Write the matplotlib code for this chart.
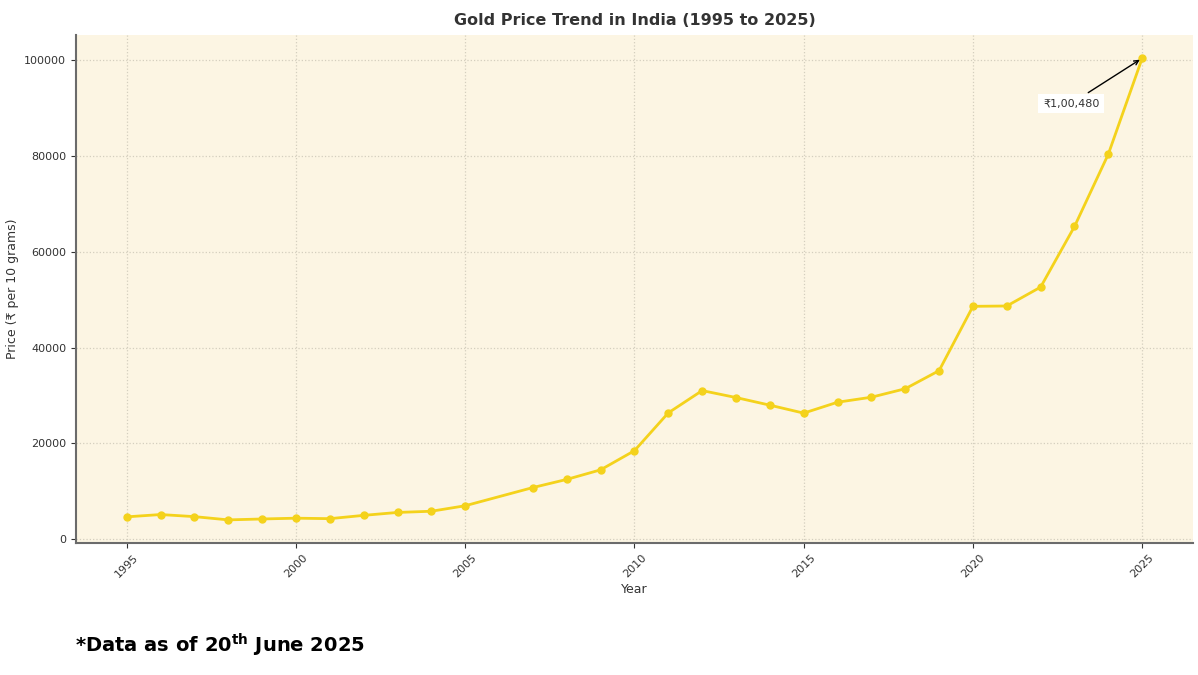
import matplotlib.pyplot as plt

years = [1995, 1996, 1997, 1998, 1999, 2000, 2001, 2002, 2003, 2004, 2005,
         2007, 2008, 2009, 2010, 2011, 2012, 2013, 2014, 2015, 2016, 2017,
         2018, 2019, 2020, 2021, 2022, 2023, 2024, 2025]
prices = [4680, 5160, 4725, 4045, 4234, 4400, 4300, 4990, 5600, 5850, 7000,
          10800, 12500, 14500, 18500, 26400, 31050, 29600, 28006, 26343, 28623, 29667,
          31438, 35220, 48651, 48720, 52670, 65330, 80450, 100480]
x_ticks = [1995, 2000, 2005, 2010, 2015, 2020, 2025]

fig = plt.figure(figsize=(11.98, 6.75), dpi=100)
ax = fig.add_axes([0.0634, 0.1956, 0.9324, 0.7524])
ax.set_facecolor('#fcf5e3')

ax.plot(years, prices, '-o', color='#f4d21c', linewidth=2, markersize=5)

ax.annotate('₹1,00,480', xy=(years[-1], prices[-1]), xytext=(2022.9, 91000),
            ha='center', va='center', fontsize=8, color='#333333',
            bbox=dict(boxstyle='square,pad=0.4', fc='white', ec='none'),
            arrowprops=dict(arrowstyle='->', color='black', lw=1))

ax.set_xticks(x_ticks)
ax.tick_params(axis='x', labelrotation=45, labelsize=8, colors='#333333')
ax.tick_params(axis='y', labelsize=8, colors='#333333')
ax.set_xlabel('Year', fontsize=9, color='#333333', labelpad=2)
ax.set_ylabel('Price (₹ per 10 grams)', fontsize=9, color='#333333')
ax.set_title('Gold Price Trend in India (1995 to 2025)', fontsize=11.5,
             fontweight='bold', color='#333333', pad=7)
ax.grid(True, linestyle=':', color='#d4cebe', linewidth=0.9)
ax.set_axisbelow(True)

for s in ['top', 'right']:
    ax.spines[s].set_visible(False)
for s in ['left', 'bottom']:
    ax.spines[s].set_color('#6b6b6b')
    ax.spines[s].set_linewidth(1.5)

fig.text(0.063, 0.033, r'*Data as of 20$^{\mathbf{th}}$ June 2025', fontsize=14,
         fontweight='bold', color='black')

fig.savefig('out.png', dpi=100)
